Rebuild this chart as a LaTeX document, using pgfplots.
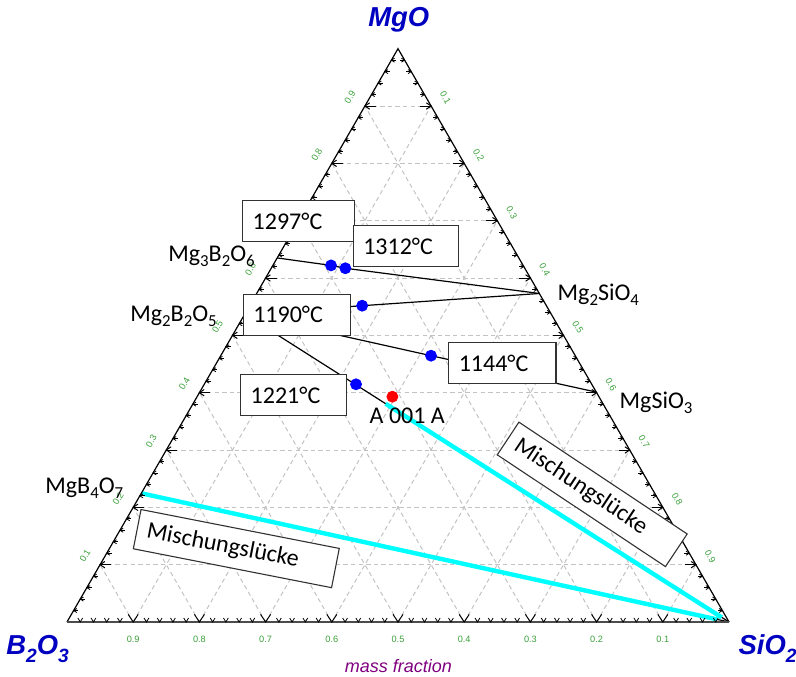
\documentclass[border=0pt]{standalone}
\usepackage{fontspec}
\setmainfont{Carlito}
\newfontfamily\arialfont{Liberation Sans}
\usepackage{pgfplots}
\pgfplotsset{compat=1.18}
\usetikzlibrary{backgrounds}
\definecolor{titleblue}{RGB}{0,0,192}
\definecolor{ticklabelgreen}{RGB}{60,160,60}
\definecolor{massviolet}{RGB}{128,0,128}
\definecolor{gridgray}{RGB}{195,195,195}
\definecolor{boxgray}{RGB}{50,50,50}
\definecolor{gapcyan}{RGB}{0,255,255}
\newcommand{\sub}[1]{\raisebox{-2.5pt}{\fontsize{8.4}{10}\selectfont #1}}
\newcommand{\tsub}[1]{\raisebox{-4pt}{\fontsize{9.6}{11}\selectfont #1}}
\pgfplotsset{/pgfplots/table/tern/.style={
  /pgfplots/table/x expr=\thisrow{s}+0.5*\thisrow{m},
  /pgfplots/table/y expr=0.8660254*\thisrow{m},
  /pgfplots/table/row sep=\\}}
\begin{document}
\begin{tikzpicture}
\begin{axis}[scale only axis, width=398pt, height=338.5pt,
  xmin=-0.10121, xmax=1.10121, ymin=-0.08308, ymax=0.93958,
  hide axis, clip=false]
% joins (mass fractions m = MgO, s = SiO2)
\addplot[black, line width=0.6pt] table[tern] {m s\\ 0.635 0\\ 0.622 0.0878\\ 0.617 0.112\\ 0.573 0.427\\};
\addplot[black, line width=0.6pt] table[tern] {m s\\ 0.537 0\\ 0.5517 0.170\\ 0.573 0.427\\};
\addplot[black, line width=0.6pt] table[tern] {m s\\ 0.537 0\\ 0.4645 0.3176\\ 0.401 0.599\\};
\addplot[black, line width=0.6pt] table[tern] {m s\\ 0.537 0\\ 0 1\\};
\addplot[black, line width=0.6pt] table[tern] {m s\\ 0.2245 0\\ 0 1\\};
% miscibility gap
\addplot[gapcyan, line width=2.2pt] table[tern] {m s\\ 0.3807 0.291\\ 0.008 0.985\\};
\addplot[gapcyan, line width=2.2pt] table[tern] {m s\\ 0.2245 0\\ 0.0045 0.98\\};
% measured points
\addplot[only marks, mark=*, mark size=2.75pt, blue] table[tern] {m s\\ 0.622 0.0878\\ 0.617 0.112\\ 0.5517 0.170\\ 0.4645 0.3176\\ 0.4146 0.2293\\};
\addplot[only marks, mark=*, mark size=2.75pt, red] table[tern] {m s\\ 0.393 0.295\\};
\coordinate (A) at (axis cs:0,0);
\coordinate (B) at (axis cs:1,0);
\coordinate (C) at (axis cs:0.5,0.8660254);
\coordinate (NW) at (rel axis cs:0,1);
\coordinate (SE) at (rel axis cs:1,0);
\end{axis}
% grid
\begin{scope}[on background layer]
\foreach \k in {1,...,9}{
  \pgfmathsetmacro\v{\k/10}\pgfmathsetmacro\w{1-\v}
  \draw[gridgray, line width=0.5pt, dash pattern=on 2.2pt off 1.6pt]
    (barycentric cs:A=\w,B=0,C=\v) -- (barycentric cs:A=0,B=\w,C=\v);
  \draw[gridgray, line width=0.5pt, dash pattern=on 2.2pt off 1.6pt]
    (barycentric cs:A=\w,B=\v,C=0) -- (barycentric cs:A=0,B=\v,C=\w);
  \draw[gridgray, line width=0.5pt, dash pattern=on 2.2pt off 1.6pt]
    (barycentric cs:A=\v,B=\w,C=0) -- (barycentric cs:A=\v,B=0,C=\w);
}
\end{scope}
% frame
\draw[black, line width=0.6pt] (A) -- (C) -- (B);
\draw[black!70, line width=1.1pt] (A) -- (B);
% ticks
\foreach \i in {1,...,49}{
  \pgfmathsetmacro\v{\i/50}\pgfmathsetmacro\w{1-\v}
  \pgfmathtruncatemacro\r{mod(\i,5)}
  \coordinate (PL) at (barycentric cs:A=\w,B=0,C=\v);
  \coordinate (PR) at (barycentric cs:A=0,B=\v,C=\w);
  \coordinate (PB) at (barycentric cs:A=\w,B=\v,C=0);
  \ifnum\r=0
    \draw[black, line width=0.5pt] ([shift={(2.4pt,1.6pt)}]PL) -- (PL) -- ([shift={(2.4pt,-1.6pt)}]PL);
    \draw[black, line width=0.5pt] (PL) -- ([shift={(5.5pt,0pt)}]PL);
    \draw[black, line width=0.5pt] ([shift={(-2.4pt,1.6pt)}]PR) -- (PR) -- ([shift={(-2.4pt,-1.6pt)}]PR);
    \draw[black, line width=0.5pt] (PR) -- ([shift={(-5.5pt,0pt)}]PR);
    \draw[black, line width=0.5pt] ([shift={(-2.5pt,3.8pt)}]PB) -- (PB) -- ([shift={(2.5pt,3.8pt)}]PB);
  \else
    \draw[black, line width=0.4pt] ([shift={(1.6pt,1.0pt)}]PL) -- (PL) -- ([shift={(1.6pt,-1.0pt)}]PL);
    \draw[black, line width=0.4pt] (PL) -- ([shift={(2.4pt,0pt)}]PL);
    \draw[black, line width=0.4pt] ([shift={(-1.6pt,1.0pt)}]PR) -- (PR) -- ([shift={(-1.6pt,-1.0pt)}]PR);
    \draw[black, line width=0.4pt] (PR) -- ([shift={(-2.4pt,0pt)}]PR);
    \draw[black, line width=0.4pt] ([shift={(-1.2pt,2.0pt)}]PB) -- (PB) -- ([shift={(1.2pt,2.0pt)}]PB);
  \fi
}
% tick labels
\foreach \k in {1,...,9}{
  \pgfmathsetmacro\v{\k/10}\pgfmathsetmacro\w{1-\v}
  \node[ticklabelgreen, font=\arialfont\fontsize{4.6}{5}\selectfont, rotate=60, inner sep=0pt]
    at ([shift={(-7.5pt,4.4pt)}]barycentric cs:A=\w,B=0,C=\v) {0.\k};
  \node[ticklabelgreen, font=\arialfont\fontsize{4.6}{5}\selectfont, rotate=-60, inner sep=0pt]
    at ([shift={(7.2pt,4.1pt)}]barycentric cs:A=0,B=\v,C=\w) {0.\k};
  \node[ticklabelgreen, font=\arialfont\fontsize{4.6}{5}\selectfont, inner sep=0pt]
    at ([shift={(0pt,-8.6pt)}]barycentric cs:A=\v,B=\w,C=0) {0.\k};
}
% labels and boxes in pixel coordinates
\begin{scope}[shift={(NW)}, x=0.5pt, y=-0.5pt,
  tbox/.style={draw=boxgray, fill=white, line width=0.55pt, minimum height=20.4pt,
    inner xsep=5pt, inner ysep=0pt, align=left, font=\fontsize{12}{14}\selectfont}]
\node[tbox, text width=45.8pt] at (298.5,221.2) {1297°C};
\node[tbox, text width=42.7pt] at (406,245.9) {1312°C};
\node[tbox, text width=43.4pt] at (296.7,314.7) {1190°C};
\node[tbox, text width=43.6pt] at (502.4,363) {1144°C};
\node[tbox, text width=42.7pt] at (293.4,395) {1221°C};
\node[tbox, text width=91pt, minimum height=20pt, rotate=-11.1] at (236.3,548.6) {Mischungslücke};
\node[tbox, text width=91pt, minimum height=19.6pt, rotate=-33.6] at (592.2,494.4) {Mischungslücke};
\begin{scope}[every node/.style={font=\fontsize{12}{14}\selectfont, inner sep=0pt, anchor=base west}]
\node at (168,262) {Mg\sub{3}B\sub{2}O\sub{6}};
\node at (130,321.7) {Mg\sub{2}B\sub{2}O\sub{5}};
\node at (45,493.5) {MgB\sub{4}O\sub{7}};
\node at (557.3,300.7) {Mg\sub{2}SiO\sub{4}};
\node at (619.3,408.3) {MgSiO\sub{3}};
\node at (369.3,423.3) {A 001 A};
\end{scope}
\begin{scope}[every node/.style={font=\arialfont\bfseries\itshape\fontsize{13.7}{16}\selectfont, text=titleblue, inner sep=0pt}]
\node[anchor=base] at (398.7,26.7) {MgO};
\node[anchor=base west] at (6,654.5) {B\tsub{2}O\tsub{3}};
\node[anchor=base west] at (738.3,654) {SiO\tsub{2}};
\end{scope}
\node[anchor=base, inner sep=0pt, text=massviolet, font=\arialfont\itshape\fontsize{9}{11}\selectfont] at (398.3,672.5) {mass fraction};
\end{scope}
\pgfresetboundingbox
\useasboundingbox (NW) rectangle (SE);
\end{tikzpicture}
\end{document}
